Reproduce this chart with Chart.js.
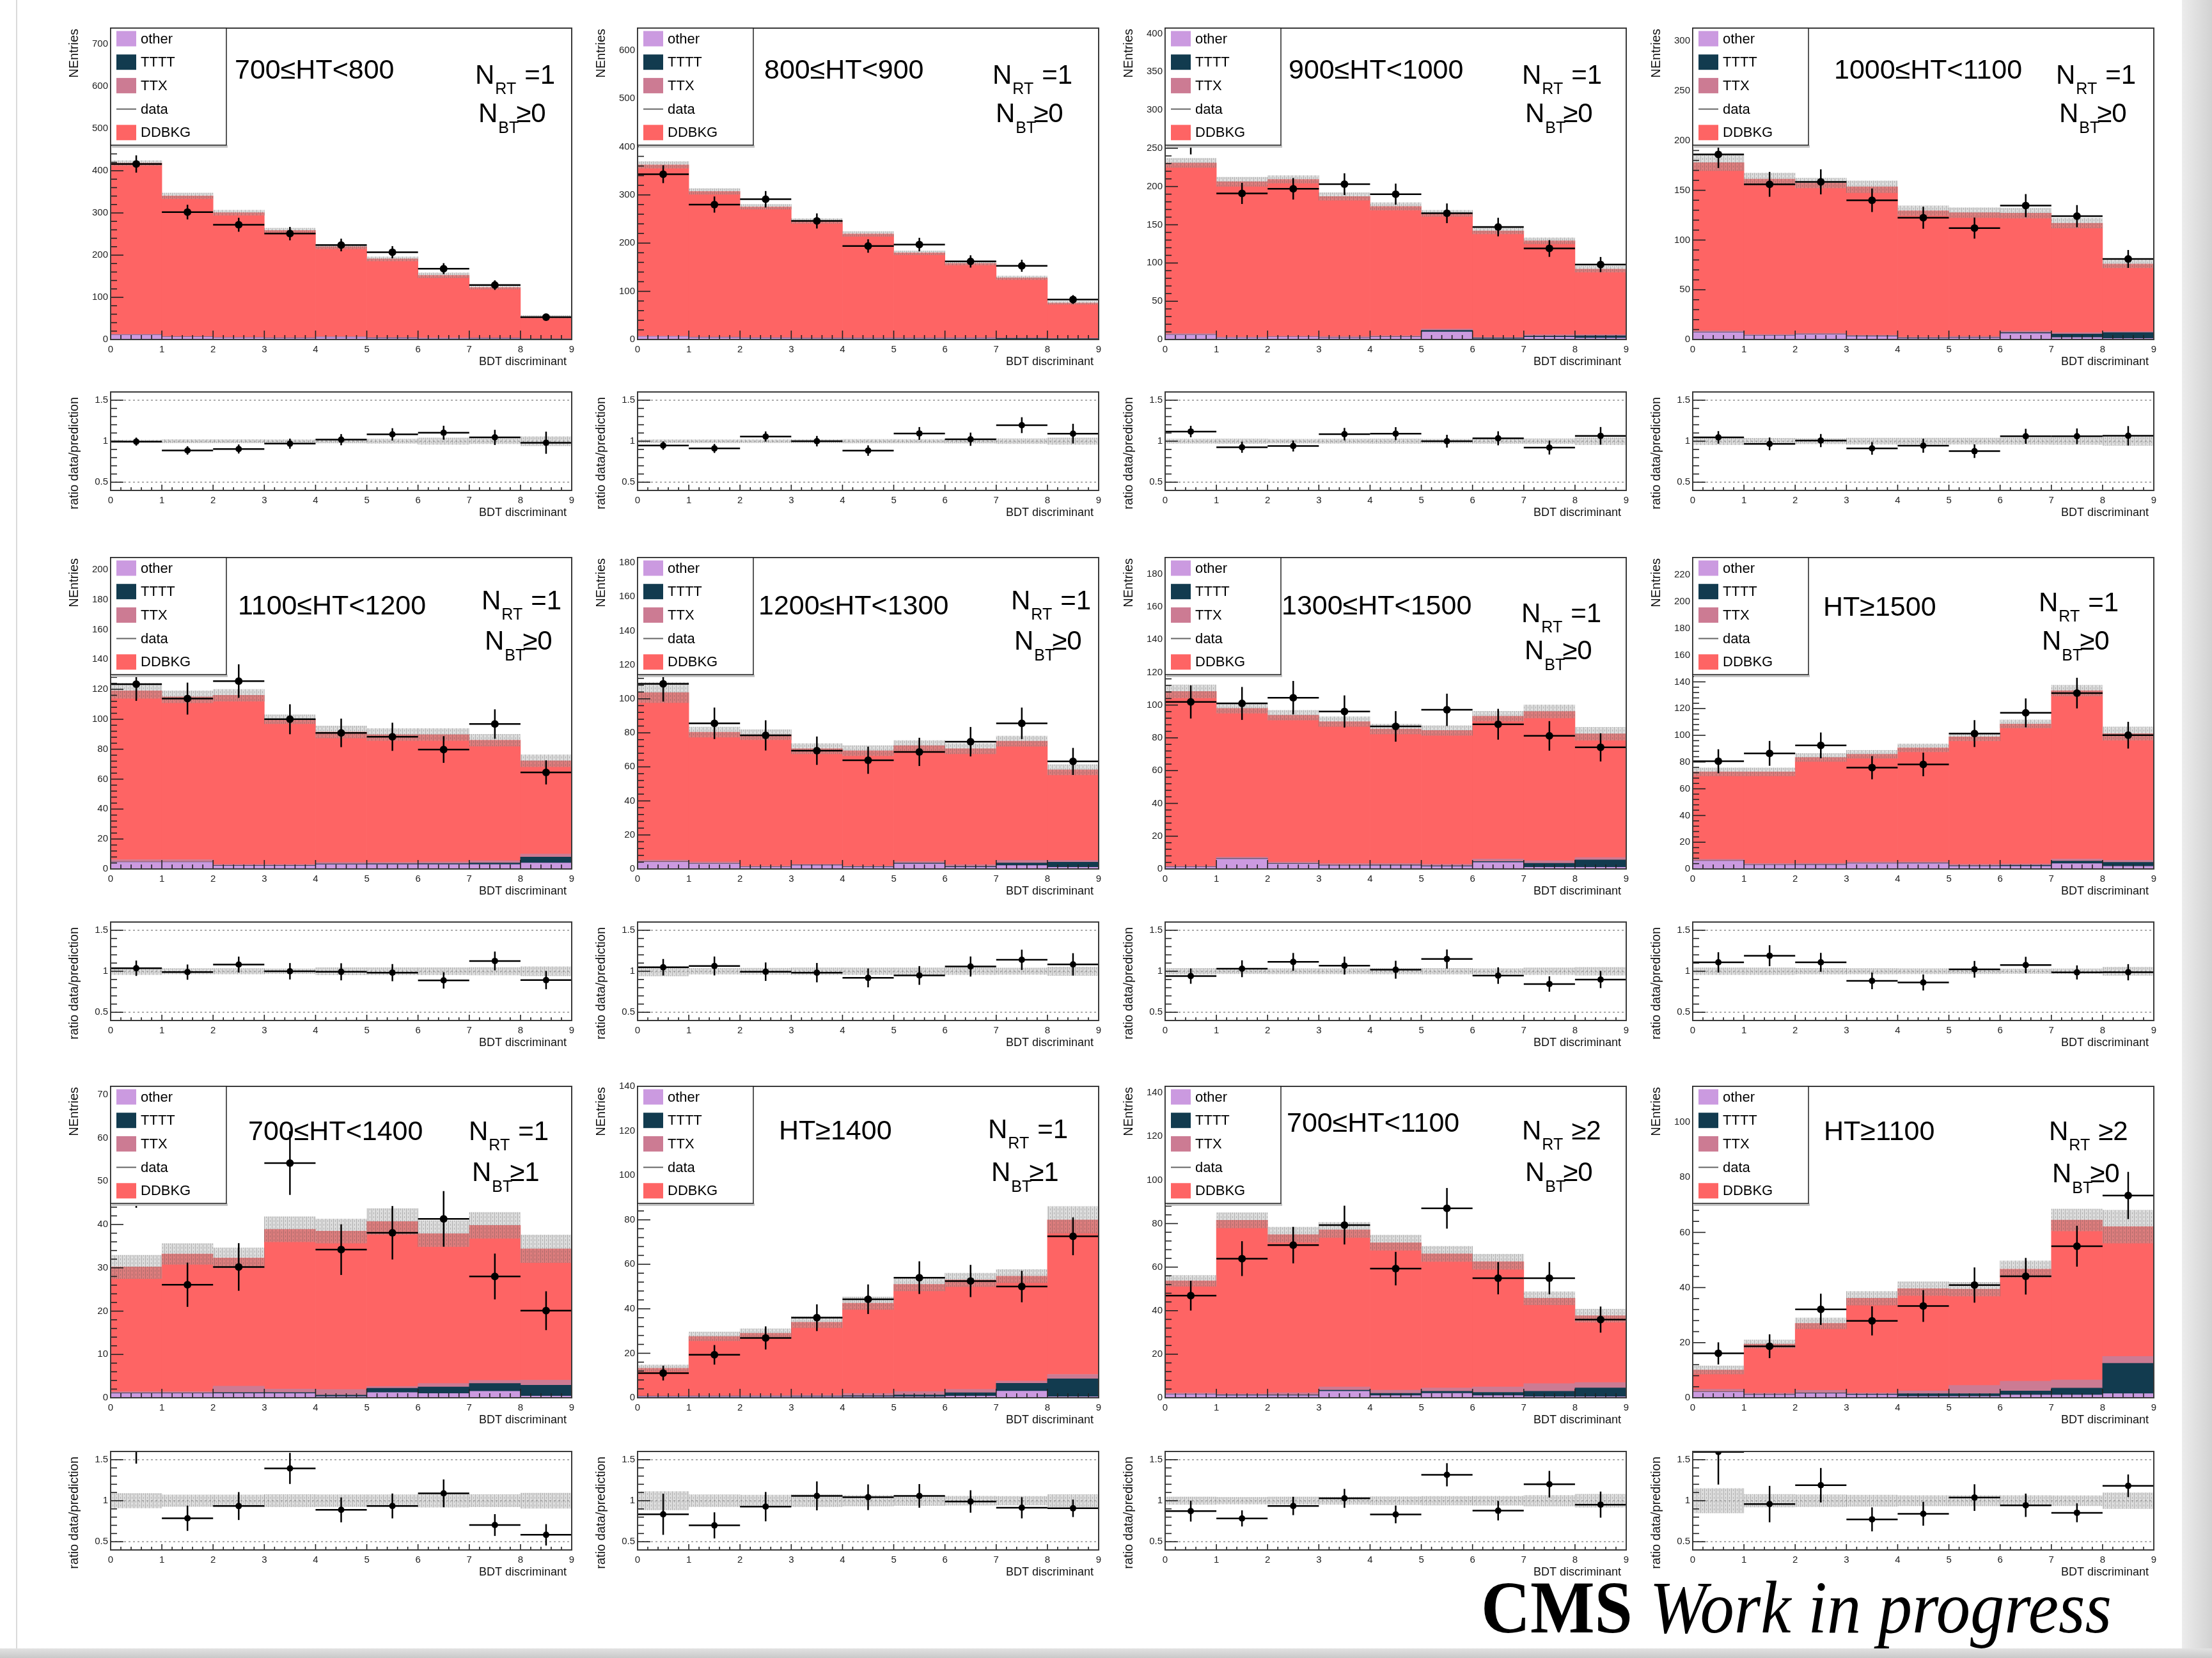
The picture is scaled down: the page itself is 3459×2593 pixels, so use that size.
<!DOCTYPE html>
<html>
<head>
<meta charset="utf-8">
<title>BDT discriminant in HT / N_RT / N_BT bins</title>
<script src="https://cdn.jsdelivr.net/npm/chart.js@4.4.1/dist/chart.umd.min.js"></script>
<style>
  html, body { margin: 0; padding: 0; background: #ffffff; }
  body { width: 3459px; height: 2593px; position: relative; overflow: hidden; }
  canvas { position: absolute; }
  #edgeL { position: absolute; left: 25px; top: 0; width: 2px; height: 2580px; background: #dadada; }
  #shadowR { position: absolute; left: 3412px; top: 0; width: 47px; height: 2593px; background: linear-gradient(to right, #ececec, #d2d2d2); }
  #shadowB { position: absolute; left: 0; top: 2578px; width: 3459px; height: 15px; background: linear-gradient(#e2e2e2, #c9c9c9); }
  #cms { position: absolute; left: 2316px; top: 2456px; font-family: "Liberation Serif", "Times New Roman", serif; font-size: 116px; line-height: 1; white-space: nowrap; transform-origin: 0 0; color: #000; }
</style>
</head>
<body>
<div id="edgeL"></div>
<div id="shadowR"></div>
<div id="shadowB"></div>
<div id="cms"><b>CMS</b> <i>Work in progress</i></div>
<script>
// ---------------------------------------------------------------------------
// Binning, labels and per-region values (12 regions, 9 BDT bins each)
// ---------------------------------------------------------------------------
const binEdges = [0, 1, 2, 3, 4, 5, 6, 7, 8, 9];
const xTitle = 'BDT discriminant';
const yTitleMain = 'NEntries';
const yTitleRatio = 'ratio data/prediction';
const seriesNames = ['other', 'TTTT', 'TTX', 'data', 'DDBKG'];

const panelTitles = ['700≤HT<800', '800≤HT<900', '900≤HT<1000', '1000≤HT<1100',
                     '1100≤HT<1200', '1200≤HT<1300', '1300≤HT<1500', 'HT≥1500',
                     '700≤HT<1400', 'HT≥1400', '700≤HT<1100', 'HT≥1100'];
const nrtCuts = ['=1', '=1', '=1', '=1', '=1', '=1', '=1', '=1', '=1', '=1', '≥2', '≥2'];
const nbtCuts = ['≥0', '≥0', '≥0', '≥0', '≥0', '≥0', '≥0', '≥0', '≥1', '≥1', '≥0', '≥0'];

const yAxisMax = [738, 646, 407, 313, 208, 183, 190, 233, 71.9, 140, 143, 113];
const yTickStep = [100, 100, 50, 50, 20, 20, 20, 20, 10, 20, 20, 20];
const ratioRange = [0.4, 1.6];
const ratioTicks = [0.5, 1, 1.5];

const ddbkg = [
  [406, 333, 295, 254, 213, 186, 148, 119, 51.5],
  [355, 302, 271, 242, 215, 176, 154, 124, 73],
  [223, 203, 205, 183, 169, 151, 139, 122.5, 85.5],
  [169, 156, 151, 149, 127, 124.5, 118.5, 110, 68],
  [112.8, 108.8, 112.9, 96.9, 87.1, 85.3, 85, 80.5, 62.3],
  [98.5, 76.2, 77.2, 67.9, 67.7, 68.1, 68.2, 70.1, 53.3],
  [106.6, 90.7, 89.5, 86.6, 82, 81.6, 87.1, 91.1, 75.5],
  [65.5, 68.5, 79.1, 80.5, 85.2, 95.4, 104.7, 126, 94.8],
  [28.8, 31.8, 29.6, 36.9, 36.6, 38.1, 34.6, 35.8, 30.3],
  [12.5, 26.7, 28, 32.8, 40.6, 48.2, 49.2, 47.2, 69.5],
  [51.5, 79.7, 72.6, 72.1, 67.7, 61.6, 57.5, 39.2, 30.7],
  [7, 17.8, 24.3, 34.3, 37.1, 34.9, 40.7, 58, 47.1]
];
const ttx = [
  [1, 1.2, 1.3, 1.5, 1.5, 1.6, 1.6, 1.5, 1],
  [1, 1, 1, 1.5, 1.5, 1.5, 1.5, 1.5, 1],
  [1.5, 1, 1, 1.5, 1.5, 2, 1, 2, 1.5],
  [1.5, 1, 1, 1, 1, 1, 1.5, 1.5, 1],
  [1.5, 1.5, 0.8, 0.8, 1, 1, 1.2, 1.5, 2],
  [1, 1, 0.5, 0.5, 0.5, 1, 1, 1.5, 1],
  [0.5, 1, 1, 1, 1, 1, 1.5, 1.5, 1.5],
  [1, 1, 1, 1, 1, 1, 1, 1.5, 1.5],
  [0.3, 0.3, 1.5, 0.8, 1.3, 0.4, 0.8, 0.7, 1.2],
  [0.2, 0.3, 0.4, 0.5, 1, 1.5, 1.5, 1, 2],
  [0.5, 0.5, 1, 1.5, 1.5, 1.5, 2.5, 3.5, 2.5],
  [1, 0.5, 1, 0.5, 1, 3, 3.5, 3, 2.5]
];
const tttt = [
  [0.2, 0.2, 0.3, 0.3, 0.4, 0.5, 0.7, 0.8, 1],
  [0.2, 0.2, 0.3, 0.4, 0.5, 0.5, 0.7, 1.5, 1.5],
  [0.3, 0.3, 0.3, 0.5, 0.5, 2, 1, 1.5, 3],
  [0.3, 0.3, 0.3, 0.5, 0.5, 0.5, 1, 3.5, 6],
  [0.2, 0.2, 0.3, 0.3, 0.4, 0.5, 0.6, 1, 4],
  [0.2, 0.2, 0.2, 0.3, 0.3, 0.4, 0.5, 1.5, 3],
  [0.2, 0.3, 0.3, 0.3, 0.4, 0.4, 0.6, 2.5, 4.5],
  [0.2, 0.2, 0.3, 0.3, 0.4, 0.5, 0.8, 2, 3],
  [0.1, 0.1, 0.2, 0.2, 0.3, 1, 1.5, 1.8, 2.5],
  [0.1, 0.1, 0.1, 0.2, 0.4, 0.8, 1.5, 3.5, 8],
  [0.2, 0.3, 0.3, 0.5, 1, 1, 1.5, 2.5, 4],
  [0.1, 0.2, 0.2, 0.3, 1, 1, 1.5, 2.5, 11]
];
const other = [
  [11, 6, 4, 3, 5, 3, 2, 2, 0.5],
  [6, 4, 3, 2, 2, 2, 2, 1, 0.5],
  [6, 2, 3, 2, 3, 10, 1, 3, 2],
  [7, 4, 5, 3, 1, 1.5, 6, 2, 1],
  [4.5, 4.5, 2, 2, 3, 3, 3, 3, 4],
  [4, 3, 1, 2, 1, 3, 1, 2, 1],
  [1, 6, 3, 2, 2, 1.5, 4, 1, 1],
  [6, 3, 3, 4, 4, 2, 2, 4, 2],
  [1, 1, 1, 1, 0.3, 1.2, 1, 1.5, 0.4],
  [0.5, 0.5, 0.5, 0.5, 0.5, 0.5, 0.8, 3, 0.5],
  [1.5, 1, 1, 3, 1, 2, 1, 0.5, 0.5],
  [2, 1, 1.5, 1, 0.5, 0.5, 1, 1, 1.5]
];
const dataCounts = [
  [416, 302, 272, 251, 224, 207, 168, 129, 53],
  [343, 280, 291, 246, 194, 197, 162, 153, 83],
  [258, 191, 197, 203, 190, 165, 147, 119, 98],
  [186, 156, 158.5, 140, 122.4, 112, 134.6, 124, 81],
  [123.4, 113.8, 125.5, 100, 90.9, 88.3, 79.8, 96.8, 64.5],
  [108.8, 85.6, 78.5, 69.5, 63.9, 68.8, 74.8, 85.6, 63.2],
  [101.9, 101, 104.5, 96.1, 87, 97.1, 88.3, 81.2, 74.2],
  [80.6, 86.5, 92.5, 75.8, 78.2, 101.3, 116.8, 131.6, 100.1],
  [51, 26.1, 30.2, 54.2, 34.2, 38.1, 41.3, 28, 20.1],
  [11.1, 19.3, 26.9, 36, 44.3, 54, 52.5, 50, 72.6],
  [46.9, 63.9, 70.1, 79.3, 59.3, 87, 54.9, 54.9, 35.9],
  [16.1, 18.7, 32.1, 27.9, 33.3, 40.9, 44.1, 55, 73.4]
];
// absolute uncertainty on the summed prediction
const predUnc = [
  [6, 7, 6, 5, 5, 5, 6, 4, 3],
  [7, 6, 5, 5, 5, 4, 4, 4, 3],
  [6, 6, 5, 5, 5, 4, 4, 4, 4],
  [8, 6, 5, 6, 5, 5, 5, 5, 4],
  [5, 4, 4, 3, 4, 4, 4, 4, 4],
  [6, 3, 3, 3, 3, 3, 3, 3, 3],
  [4, 3, 3, 3, 3, 3, 3, 4, 4],
  [3, 3, 3, 3, 3, 3, 3, 4, 5],
  [2.7, 2.4, 2.3, 2.9, 2.8, 3, 3, 3, 3.2],
  [1.5, 2, 2, 2.5, 2.8, 3, 3, 3, 6],
  [2.5, 3.5, 3.5, 3.5, 3.5, 3.5, 3.5, 3, 3],
  [1.5, 1.5, 2, 2.5, 2.5, 2.5, 3, 4, 6]
];

// ---------------------------------------------------------------------------
// Page geometry and styles
// ---------------------------------------------------------------------------
const COL_X = [173, 997, 1822, 2647];
const MAIN_Y = [43, 871, 1698];
const RATIO_Y = [612, 1441, 2269];
const FRAME_W = 721, MAIN_H = 488, RATIO_H = 155;
const PAD_L = 90, PAD_T = 12, PAD_R = 14, PAD_B = 52;
// [title dx, title baseline dy, N dx, N_RT baseline dy, N_BT baseline dy]
const textLayout = [
  [194, 79, 570, 87, 147], [198, 79, 555, 87, 147], [193, 79, 558, 87, 147], [221, 79, 568, 87, 147],
  [199, 89, 580, 81, 144], [189, 89, 584, 81, 144], [182, 89, 557, 101, 159], [204, 91, 541, 84, 144],
  [215, 84, 560, 84, 148], [221, 83, 548, 81, 148], [190, 71, 558, 83, 148], [205, 84, 557, 84, 150]
];
const FONT = '"Liberation Sans", Arial, Helvetica, sans-serif';
const COLORS = { other: '#cb9ae0', TTTT: '#123b4f', TTX: '#cc7b93', DDBKG: '#fe6464', data: '#000000' };

function makeHatch() {
  const c = document.createElement('canvas');
  c.width = 6; c.height = 6;
  const g = c.getContext('2d');
  g.fillStyle = 'rgba(165,165,165,0.38)';
  g.fillRect(0, 0, 6, 6);
  g.fillStyle = 'rgba(70,70,70,0.30)';
  g.fillRect(0, 0, 1, 6);
  g.fillRect(3, 0, 1, 3);
  return g.createPattern(c, 'repeat');
}
const HATCH = makeHatch();

const binCenters = binEdges.slice(0, -1).map((e, i) => (e + binEdges[i + 1]) / 2);
function stackTotal(p) {
  return ddbkg[p].map((v, i) => v + ttx[p][i] + tttt[p][i] + other[p][i]);
}

function makeCanvas(left, top, w, h) {
  const cv = document.createElement('canvas');
  cv.width = w; cv.height = h;
  cv.style.left = left + 'px'; cv.style.top = top + 'px';
  cv.style.width = w + 'px'; cv.style.height = h + 'px';
  document.body.appendChild(cv);
  return cv;
}

function line(ctx, x1, y1, x2, y2) {
  ctx.beginPath(); ctx.moveTo(x1, y1); ctx.lineTo(x2, y2); ctx.stroke();
}

// ---------------------------------------------------------------------------
// Drawing helpers used by the plugin
// ---------------------------------------------------------------------------
function drawErrorBars(chart, ds) {
  const ctx = chart.ctx, ca = chart.chartArea, xs = chart.scales.x, ys = chart.scales.y;
  ctx.save();
  ctx.beginPath(); ctx.rect(ca.left, ca.top, ca.width, ca.height); ctx.clip();
  ctx.strokeStyle = '#000'; ctx.lineWidth = 2.5;
  ds.data.forEach((pt, i) => {
    const py = ys.getPixelForValue(pt.y);
    line(ctx, xs.getPixelForValue(binEdges[i]), py, xs.getPixelForValue(binEdges[i + 1]), py);
    const px = xs.getPixelForValue(pt.x);
    line(ctx, px, ys.getPixelForValue(pt.y - ds.yErr[i]), px, ys.getPixelForValue(pt.y + ds.yErr[i]));
  });
  ctx.restore();
}

function drawRefLines(chart) {
  const ctx = chart.ctx, ca = chart.chartArea, ys = chart.scales.y;
  ctx.save();
  ctx.strokeStyle = '#a0a0a0'; ctx.lineWidth = 1.6; ctx.setLineDash([3, 4]);
  ratioTicks.forEach(v => { const y = ys.getPixelForValue(v); line(ctx, ca.left, y, ca.right, y); });
  ctx.restore();
}

function drawFrameAndTicks(chart, o) {
  const ctx = chart.ctx, ca = chart.chartArea, xs = chart.scales.x, ys = chart.scales.y;
  const ratio = o.kind === 'ratio';
  ctx.save();
  ctx.strokeStyle = '#222'; ctx.lineWidth = 1.6;
  // x axis: majors on integers, 5 subdivisions
  const xMaj = ratio ? 9 : 14, xMin = ratio ? 5 : 7;
  for (let k = 0; k <= 45; k++) {
    const px = xs.getPixelForValue(k / 5);
    const len = k % 5 === 0 ? xMaj : xMin;
    line(ctx, px, ca.bottom, px, ca.bottom - len);
  }
  // y axis
  const step = ratio ? 0.5 : o.step;
  const sub = step / 5;
  const yStart = ratio ? ratioRange[0] : 0;
  const yEnd = ratio ? ratioRange[1] : o.max;
  const n = Math.floor((yEnd - yStart) / (ratio ? 0.1 : sub) + 1e-6);
  for (let k = 0; k <= n; k++) {
    const v = ratio ? Math.round((yStart + k * 0.1) * 10) / 10 : k * sub;
    const isMaj = ratio ? ratioTicks.includes(v) : (k % 5 === 0);
    const py = ys.getPixelForValue(v);
    line(ctx, ca.left, py, ca.left + (isMaj ? 20 : 10), py);
  }
  ctx.lineWidth = 2; ctx.strokeStyle = '#3a3a3a';
  ctx.strokeRect(ca.left, ca.top, ca.width, ca.height);
  ctx.restore();
}

function drawLegendBox(chart) {
  const ctx = chart.ctx, ca = chart.chartArea;
  const x0 = ca.left, y0 = ca.top, w = 181, h = 183;
  ctx.save();
  ctx.fillStyle = '#fff'; ctx.fillRect(x0, y0, w, h);
  ctx.fillStyle = '#c4c4c4'; ctx.fillRect(x0 + 2, y0 + h, w, 4);
  ctx.strokeStyle = '#222'; ctx.lineWidth = 1.5; ctx.strokeRect(x0, y0, w, h);
  ctx.font = `22px ${FONT}`; ctx.textBaseline = 'middle'; ctx.textAlign = 'left';
  seriesNames.forEach((name, k) => {
    const ds = chart.data.datasets.find(d => d.label === name);
    const cy = y0 + 16.5 + k * 36.7;
    if (name === 'data') {
      ctx.strokeStyle = '#666'; ctx.lineWidth = 2;
      line(ctx, x0 + 9, cy, x0 + 40, cy);
    } else {
      ctx.fillStyle = ds.backgroundColor; ctx.fillRect(x0 + 9, cy - 12, 31, 24);
    }
    ctx.fillStyle = '#000';
    ctx.fillText(ds.label, x0 + 47, cy + 1);
  });
  ctx.restore();
}

function drawRegionText(chart, p) {
  const ctx = chart.ctx, ca = chart.chartArea;
  const [tdx, tdy, ndx, nrtdy, nbtdy] = textLayout[p];
  ctx.save();
  ctx.fillStyle = '#000'; ctx.textAlign = 'left'; ctx.textBaseline = 'alphabetic';
  ctx.font = `43px ${FONT}`;
  ctx.fillText(panelTitles[p], ca.left + tdx, ca.top + tdy);
  // N_RT
  let x = ca.left + ndx, y = ca.top + nrtdy;
  ctx.font = `42px ${FONT}`;
  ctx.fillText('N', x, y);
  const wN = ctx.measureText('N').width;
  ctx.font = `25px ${FONT}`;
  ctx.fillText('RT', x + wN + 1, y + 16);
  const wS = ctx.measureText('RT').width;
  const wB = ctx.measureText('BT').width;
  ctx.font = `42px ${FONT}`;
  ctx.fillText(nrtCuts[p], x + wN + wS + 14, y);
  // N_BT
  x = ca.left + ndx + 5; y = ca.top + nbtdy;
  ctx.fillText('N', x, y);
  ctx.font = `25px ${FONT}`;
  ctx.fillText('BT', x + wN + 1, y + 17);
  ctx.font = `42px ${FONT}`;
  ctx.fillText(nbtCuts[p], x + wN + wB - 3, y);
  ctx.restore();
}

function drawAxisTitles(chart, o) {
  const ctx = chart.ctx, ca = chart.chartArea;
  ctx.save();
  ctx.fillStyle = '#111';
  ctx.font = `18px ${FONT}`; ctx.textAlign = 'right'; ctx.textBaseline = 'middle';
  ctx.fillText(xTitle, ca.right - 8, ca.bottom + 35);
  ctx.translate(ca.left - 57, ca.top + (o.kind === 'ratio' ? 8 : 1));
  ctx.rotate(-Math.PI / 2);
  ctx.font = `20px ${FONT}`; ctx.textAlign = 'right';
  ctx.fillText(o.kind === 'ratio' ? yTitleRatio : yTitleMain, 0, 0);
  ctx.restore();
}

const rootStyle = {
  id: 'rootStyle',
  beforeDatasetsDraw(chart) {
    const o = chart.options.plugins.rootStyle;
    if (o.kind === 'ratio') drawRefLines(chart);
  },
  beforeDatasetDraw(chart, args) {
    const ds = chart.data.datasets[args.index];
    if (ds.yErr) drawErrorBars(chart, ds);
  },
  afterDatasetsDraw(chart) {
    const o = chart.options.plugins.rootStyle;
    drawFrameAndTicks(chart, o);
    if (o.kind === 'main') {
      drawLegendBox(chart);
      drawRegionText(chart, o.panel);
    }
    drawAxisTitles(chart, o);
  }
};

function axisOptions(yMin, yMax, tickValues, stacked) {
  return {
    x: {
      type: 'linear', min: binEdges[0], max: binEdges[binEdges.length - 1], offset: false,
      grid: { display: false, drawTicks: false }, border: { display: false },
      ticks: { stepSize: 1, autoSkip: false, maxRotation: 0, padding: 7, color: '#222',
               font: { family: FONT, size: 15 }, callback: v => String(v) },
      afterFit: s => { s.height = PAD_B; }
    },
    y: {
      min: yMin, max: yMax, stacked: stacked,
      grid: { display: false, drawTicks: false }, border: { display: false },
      afterBuildTicks: s => { s.ticks = tickValues.map(v => ({ value: v })); },
      ticks: { padding: 4, color: '#222', font: { family: FONT, size: 15 }, callback: v => String(v) },
      afterFit: s => { s.width = PAD_L; }
    }
  };
}

function mainChart(p) {
  const col = p % 4, row = Math.floor(p / 4);
  const cv = makeCanvas(COL_X[col] - PAD_L, MAIN_Y[row] - PAD_T, PAD_L + FRAME_W + PAD_R, PAD_T + MAIN_H + PAD_B);
  const tot = stackTotal(p);
  const pts = arr => arr.map((v, i) => ({ x: binCenters[i], y: v }));
  const yTicks = [];
  for (let k = 0; k * yTickStep[p] <= yAxisMax[p] + 1e-9; k++) yTicks.push(k * yTickStep[p]);
  const barBase = { stack: 'mc', order: 2, grouped: false, barPercentage: 1, categoryPercentage: 1, borderWidth: 0 };
  new Chart(cv, {
    type: 'bar',
    data: {
      datasets: [
        { type: 'scatter', label: 'data', data: pts(dataCounts[p]), stack: 'data', order: 0,
          pointRadius: 6, pointHoverRadius: 6, pointBackgroundColor: COLORS.data,
          pointBorderColor: COLORS.data, pointBorderWidth: 0, yErr: dataCounts[p].map(Math.sqrt) },
        { label: 'prediction uncertainty', stack: 'unc', order: 1, grouped: false, barPercentage: 1,
          categoryPercentage: 1, borderWidth: 0, backgroundColor: HATCH,
          data: tot.map((t, i) => ({ x: binCenters[i], y: [t - predUnc[p][i], t + predUnc[p][i]] })) },
        Object.assign({ label: 'other', data: pts(other[p]), backgroundColor: COLORS.other }, barBase),
        Object.assign({ label: 'TTTT', data: pts(tttt[p]), backgroundColor: COLORS.TTTT }, barBase),
        Object.assign({ label: 'TTX', data: pts(ttx[p]), backgroundColor: COLORS.TTX }, barBase),
        Object.assign({ label: 'DDBKG', data: pts(ddbkg[p]), backgroundColor: COLORS.DDBKG }, barBase)
      ]
    },
    options: {
      responsive: false, animation: false, devicePixelRatio: 1, events: [],
      layout: { padding: { left: 0, top: PAD_T, right: PAD_R, bottom: 0 } },
      plugins: { legend: { display: false }, tooltip: { enabled: false },
                 rootStyle: { kind: 'main', panel: p, step: yTickStep[p], max: yAxisMax[p] } },
      scales: axisOptions(0, yAxisMax[p], yTicks, true)
    },
    plugins: [rootStyle]
  });
}

function ratioChart(p) {
  const col = p % 4, row = Math.floor(p / 4);
  const cv = makeCanvas(COL_X[col] - PAD_L, RATIO_Y[row] - PAD_T, PAD_L + FRAME_W + PAD_R, PAD_T + RATIO_H + PAD_B);
  const tot = stackTotal(p);
  new Chart(cv, {
    type: 'bar',
    data: {
      datasets: [
        { type: 'scatter', label: 'data/prediction', order: 0,
          data: dataCounts[p].map((v, i) => ({ x: binCenters[i], y: v / tot[i] })),
          yErr: dataCounts[p].map((v, i) => Math.sqrt(v) / tot[i]),
          pointRadius: 5, pointHoverRadius: 5, pointBackgroundColor: '#000', pointBorderWidth: 0 },
        { label: 'prediction uncertainty', order: 1, grouped: false, barPercentage: 1, categoryPercentage: 1,
          borderWidth: 0, backgroundColor: HATCH,
          data: tot.map((t, i) => ({ x: binCenters[i], y: [1 - predUnc[p][i] / t, 1 + predUnc[p][i] / t] })) }
      ]
    },
    options: {
      responsive: false, animation: false, devicePixelRatio: 1, events: [],
      layout: { padding: { left: 0, top: PAD_T, right: PAD_R, bottom: 0 } },
      plugins: { legend: { display: false }, tooltip: { enabled: false }, rootStyle: { kind: 'ratio', panel: p } },
      scales: axisOptions(ratioRange[0], ratioRange[1], ratioTicks, false)
    },
    plugins: [rootStyle]
  });
}

for (let p = 0; p < panelTitles.length; p++) {
  mainChart(p);
  ratioChart(p);
}

// fit the experiment label to its slot
const cms = document.getElementById('cms');
const cmsW = cms.getBoundingClientRect().width;
cms.style.transform = `scaleX(${(986 / cmsW).toFixed(4)})`;
</script>
</body>
</html>
